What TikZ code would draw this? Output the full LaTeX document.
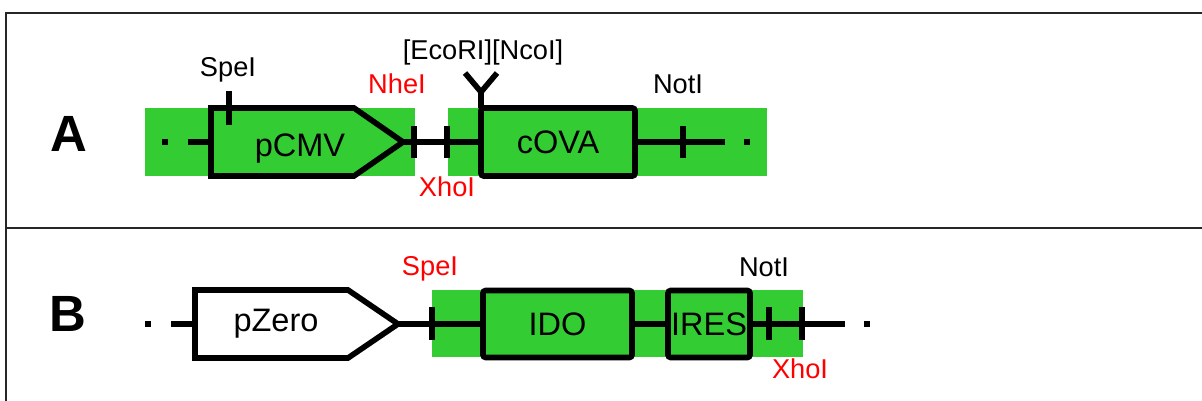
\documentclass[tikz,border=0pt]{standalone}
\usepackage{fontspec}
\setmainfont{Liberation Sans}
\definecolor{insert}{RGB}{51,204,51}
\newcommand{\sitefont}{\fontsize{15.5}{18}\selectfont}
\newcommand{\boxfont}{\fontsize{18.5}{22}\selectfont}
\newcommand{\panelfont}{\bfseries\fontsize{29}{34}\selectfont}
\begin{document}
\begin{tikzpicture}[x=0.02cm,y=-0.02cm,
  dna/.style={line width=3.2pt},
  gene/.style={draw,line width=3.2pt,fill=insert,rounded corners=1.5pt,inner sep=0pt,outer sep=0pt,minimum height=1.36cm,font=\boxfont},
  promoter/.style={dna,line join=miter},
  site/.style={anchor=base,inner sep=0pt,font=\sitefont},
  panel/.style={anchor=base,inner sep=0pt,font=\panelfont},
  dot/.style={fill,inner sep=0pt,minimum size=0.12cm},
  frame/.style={line width=1.2pt,black!85}]
\useasboundingbox (0,0) rectangle (1202,401);
\draw[frame] (6,401) -- (6,13) -- (1202,13);
\draw[frame] (6,228) -- (1202,228);

% A
\node[panel] (labA) at (69,152) {A};
\fill[insert] (145,108) rectangle (415,176);
\fill[insert] (448,108) rectangle (767,176);
\node[dot] (a0) at (165,142) {};
\coordinate (a1) at (188,142);
\coordinate (cmvL) at (211,142);
\draw[promoter,fill=insert] (211,108) -- (354,108) -- (403,142) coordinate (cmvtip) -- (354,176) -- (211,176) -- cycle;
\node[font=\boxfont,anchor=base,inner sep=0pt] (cmv) at (300,157) {pCMV};
\node[gene,minimum width=3.08cm] (cova) at (558,142) {cOVA};
\coordinate (a2) at (725,142);
\node[dot] (a3) at (747,142) {};
\draw[dna] (a1) -- (cmvL);
\draw[dna] (cmvtip) -- (cova.west);
\draw[dna] (cova.east) -- (a2);
\foreach \x in {414,447,683} \draw[dna] (\x,126) -- (\x,158);
\draw[dna] (229,91) -- (229,125);
\draw[dna] (cova.north west) -- ++(0,-16) coordinate (eco) -- ++(-16,-19) (eco) -- ++(16,-19);
\node[site] (speA) at (228,77) {SpeI};
\node[site,red] (nheA) at (397,94) {NheI};
\node[site] (ecoA) at (483,60) {[EcoRI][NcoI]};
\node[site,red] (xhoA) at (447,197) {XhoI};
\node[site] (notA) at (678,94) {NotI};

% B
\node[panel] (labB) at (68,332) {B};
\fill[insert] (432,290) rectangle (803,357);
\node[dot] (b0) at (148,324) {};
\coordinate (b1) at (171,324);
\coordinate (zeroL) at (195,324);
\draw[promoter,fill=white] (195,290) -- (348,290) -- (398,324) coordinate (zerotip) -- (348,358) -- (195,358) -- cycle;
\node[font=\boxfont,anchor=base,inner sep=0pt] (zero) at (276,332) {pZero};
\node[gene,minimum width=2.98cm,minimum height=1.34cm] (ido) at (557.5,324) {IDO};
\node[gene,minimum width=1.64cm,minimum height=1.34cm] (ires) at (709,324) {IRES};
\coordinate (b2) at (845,324);
\node[dot] (b3) at (867,324) {};
\draw[dna] (b1) -- (zeroL);
\draw[dna] (zerotip) -- (ido.west);
\draw[dna] (ido.east) -- (ires.west);
\draw[dna] (ires.east) -- (b2);
\foreach \x in {432,769,802} \draw[dna] (\x,307) -- (\x,340);
\node[site,red] (speB) at (430,276) {SpeI};
\node[site] (notB) at (764,277) {NotI};
\node[site,red] (xhoB) at (800,378) {XhoI};
\end{tikzpicture}
\end{document}
